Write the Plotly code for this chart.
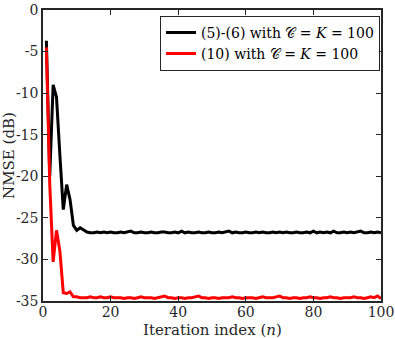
import plotly.graph_objects as go

iterations = list(range(1, 101))

nmse_56 = [
    -3.7, -20.0, -9.0, -10.5, -17.5, -24.0, -21.0, -22.8, -25.9, -26.5,
    -26.2, -26.4, -26.7, -26.8, -26.8, -26.7, -26.8, -26.7, -26.8, -26.7,
    -26.8, -26.8, -26.7, -26.8, -26.7, -26.6, -26.8, -26.8, -26.7, -26.8,
    -26.8, -26.7, -26.8, -26.8, -26.7, -26.7, -26.8, -26.8, -26.7, -26.8,
    -26.6, -26.8, -26.7, -26.8, -26.8, -26.7, -26.8, -26.8, -26.7, -26.8,
    -26.8, -26.7, -26.8, -26.7, -26.6, -26.8, -26.7, -26.8, -26.8, -26.7,
    -26.8, -26.8, -26.7, -26.8, -26.7, -26.8, -26.8, -26.7, -26.8, -26.7,
    -26.8, -26.7, -26.8, -26.8, -26.7, -26.8, -26.8, -26.7, -26.8, -26.6,
    -26.8, -26.7, -26.8, -26.7, -26.8, -26.6, -26.8, -26.8, -26.7, -26.8,
    -26.7, -26.8, -26.7, -26.6, -26.8, -26.8, -26.7, -26.8, -26.7, -26.8,
]

nmse_10 = [
    -4.5, -21.0, -30.3, -26.5, -29.0, -34.0, -34.1, -33.9, -34.5, -34.5,
    -34.6, -34.6, -34.6, -34.5, -34.6, -34.6, -34.5, -34.6, -34.6, -34.5,
    -34.6, -34.6, -34.6, -34.7, -34.6, -34.6, -34.7, -34.6, -34.5, -34.6,
    -34.6, -34.6, -34.7, -34.6, -34.5, -34.4, -34.6, -34.6, -34.7, -34.6,
    -34.6, -34.7, -34.6, -34.6, -34.5, -34.4, -34.6, -34.6, -34.7, -34.6,
    -34.6, -34.7, -34.6, -34.6, -34.6, -34.5, -34.6, -34.6, -34.7, -34.6,
    -34.6, -34.6, -34.7, -34.6, -34.5, -34.6, -34.6, -34.6, -34.5, -34.4,
    -34.6, -34.6, -34.7, -34.6, -34.6, -34.7, -34.6, -34.6, -34.5, -34.6,
    -34.6, -34.7, -34.6, -34.6, -34.5, -34.6, -34.6, -34.7, -34.6, -34.6,
    -34.6, -34.5, -34.6, -34.6, -34.7, -34.6, -34.5, -34.6, -34.4, -34.7,
]

x_ticks = [0, 20, 40, 60, 80, 100]
y_ticks = [0, -5, -10, -15, -20, -25, -30, -35]

label_56 = "(5)-(6) with 𝒞 = <i>K</i> = 100"
label_10 = "(10) with 𝒞 = <i>K</i> = 100"

font_family = "DejaVu Serif, Liberation Serif, serif"

fig = go.Figure()
fig.add_trace(go.Scatter(x=iterations, y=nmse_56, mode="lines", name=label_56,
                         line=dict(color="black", width=3)))
fig.add_trace(go.Scatter(x=iterations, y=nmse_10, mode="lines", name=label_10,
                         line=dict(color="#ff0000", width=3)))

axis_common = dict(showgrid=False, zeroline=False, showline=True, linecolor="#262626",
                   linewidth=1.5, mirror="ticks", ticks="inside", ticklen=5,
                   tickcolor="#262626", tickwidth=1, automargin=False,
                   tickfont=dict(family=font_family, size=14, color="#262626"))

fig.update_layout(
    width=395, height=338,
    margin=dict(l=43, r=14, t=10, b=37),
    paper_bgcolor="white", plot_bgcolor="white",
    font=dict(family=font_family, color="#262626"),
    showlegend=True,
    legend=dict(x=0.997, y=0.98, xanchor="right", yanchor="top",
                bgcolor="white", bordercolor="#262626", borderwidth=1,
                font=dict(family=font_family, size=14, color="black"),
                tracegroupgap=0, itemwidth=30),
    xaxis=dict(range=[0, 100], tickvals=x_ticks, ticktext=[str(v) for v in x_ticks],
               ticklabelstandoff=-3, **axis_common),
    yaxis=dict(range=[-35, 0], tickvals=y_ticks, ticktext=[str(v) for v in y_ticks],
               title=dict(text="NMSE (dB)", font=dict(size=15), standoff=2),
               **axis_common),
    annotations=[dict(text="Iteration index (<i>n</i>)", xref="paper", yref="paper",
                      x=0.5, y=-0.1, xanchor="center", yanchor="middle",
                      showarrow=False, font=dict(family=font_family, size=15, color="#262626"))],
)

fig.write_html("out.html", config={"displayModeBar": False},
               post_script="document.body.style.margin='0';document.body.style.padding='0';")
